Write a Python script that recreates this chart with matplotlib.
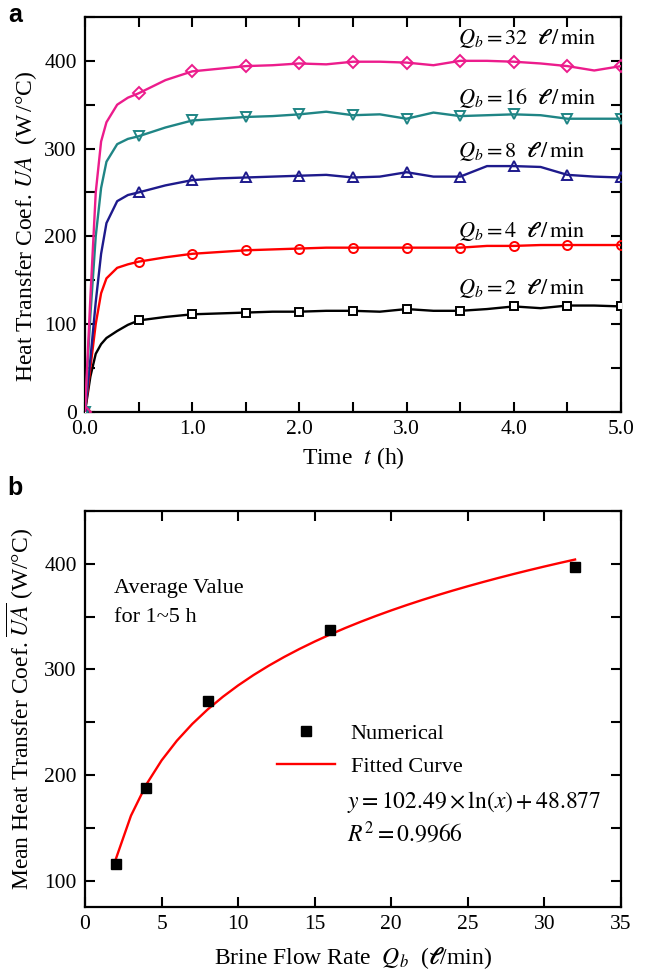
import numpy as np
import matplotlib
matplotlib.use("Agg")
import matplotlib.pyplot as plt
from matplotlib.lines import Line2D
from matplotlib.ticker import FixedLocator, FuncFormatter

plt.rcParams["font.family"] = ["Liberation Serif", "DejaVu Serif"]
plt.rcParams["mathtext.fontset"] = "stix"

# ---- panel a data: UA (W/C) vs time (h) ----
time_h = [0, 0.05, 0.1, 0.15, 0.2, 0.3, 0.4, 0.5, 0.75, 1.0, 1.25, 1.5, 1.75, 2.0,
          2.25, 2.5, 2.75, 3.0, 3.25, 3.5, 3.75, 4.0, 4.25, 4.5, 4.75, 5.0]
ua_q2 = [0, 40, 66, 77, 84, 92, 99, 104, 108, 111, 112, 113, 114, 114,
         115, 115, 114, 117, 115, 115, 117, 120, 118, 121, 121, 120]
ua_q4 = [0, 50, 100, 135, 152, 164, 168, 171, 176, 180, 182, 184, 185, 186,
         187, 187, 187, 187, 187, 187, 189, 189, 190, 190, 190, 190]
ua_q8 = [0, 60, 125, 180, 215, 240, 247, 250, 258, 264, 266, 267, 268, 269,
         270, 267, 268, 273, 268, 268, 280, 280, 279, 270, 268, 267]
ua_q16 = [0, 110, 200, 255, 285, 305, 311, 314, 324, 332, 334, 336, 337, 339,
          342, 338, 339, 334, 341, 337, 338, 339, 338, 334, 334, 334]
ua_q32 = [0, 130, 250, 308, 330, 350, 358, 363, 378, 388, 391, 394, 395, 397,
          396, 399, 399, 398, 395, 400, 400, 399, 397, 394, 389, 394]
marker_times = [0, 0.5, 1.0, 1.5, 2.0, 2.5, 3.0, 3.5, 4.0, 4.5, 5.0]
flow_labels = ["2", "4", "8", "16", "32"]

# ---- panel b data: mean UA vs brine flow rate ----
flow_rate = [2, 4, 8, 16, 32]
mean_ua = [116, 188, 270, 337, 397]
fit_a, fit_b = 102.49, 48.877   # y = a ln(x) + b, from the chart

colors = ["black", "#ff0000", "#1e1a8c", "#1f8585", "#ec1c8c"]
markers = ["s", "o", "^", "v", "D"]
msizes = [6, 6.5, 7.5, 7.5, 6.5]
series = [ua_q2, ua_q4, ua_q8, ua_q16, ua_q32]
label_y = [141, 206, 297, 358, 426]

fig = plt.figure(figsize=(6.5, 9.76), dpi=100)
ax1 = fig.add_axes([0.1308, 0.5782, 0.8246, 0.4044])
ax2 = fig.add_axes([0.1308, 0.0707, 0.8246, 0.4057])

mark_idx = [time_h.index(t) for t in marker_times]
for vals, c, m, ms in zip(series, colors, markers, msizes):
    face = "white" if m == "s" else "none"
    ax1.plot(time_h, vals, color=c, lw=1.7, marker=m, markevery=mark_idx,
             ms=ms, mfc=face, mec=c, mew=1.4, zorder=3)

for lab, y in zip(flow_labels, label_y):
    ax1.text(3.48, y, r"$Q_b = %s\ \ \boldsymbol{\ell}\,/\,\mathrm{min}$" % lab,
             fontsize=16, va="center", ha="left")

ax1.set_xlim(0, 5)
ax1.set_ylim(0, 450)
ax1.xaxis.set_major_locator(FixedLocator(np.arange(0, 5.01, 0.5)))
ax1.xaxis.set_major_formatter(FuncFormatter(
    lambda v, p: "%.1f" % v if abs(v - round(v)) < 1e-6 else ""))
ax1.yaxis.set_major_locator(FixedLocator(np.arange(0, 451, 50)))
ax1.yaxis.set_major_formatter(FuncFormatter(
    lambda v, p: "%d" % v if int(round(v)) % 100 == 0 else ""))
ax1.set_xlabel(r"Time  $t$ (h)", fontsize=17, labelpad=4)
ax1.set_ylabel(r"Heat Transfer Coef. $UA$  (W$\,$/°C)", fontsize=17, labelpad=6)
ax1.yaxis.set_label_coords(-0.085, 0.47)

# panel b
x_fit = np.arange(2, 33)
ax2.plot(x_fit, fit_a * np.log(x_fit) + fit_b, color="#ff0000", lw=1.7, zorder=2)
ax2.plot(flow_rate, mean_ua, "s", color="black", ms=6.5, zorder=3)
ax2.set_xlim(0, 35)
ax2.set_ylim(75, 450)
ax2.xaxis.set_major_locator(FixedLocator(np.arange(0, 36, 5)))
ax2.yaxis.set_major_locator(FixedLocator(np.arange(100, 451, 50)))
ax2.yaxis.set_major_formatter(FuncFormatter(
    lambda v, p: "%d" % v if int(round(v)) % 100 == 0 else ""))
ax2.set_xlabel(r"Brine Flow Rate  $Q_b$  ($\boldsymbol{\ell}$/min)", fontsize=17, labelpad=8)
ax2.set_ylabel(r"Mean Heat Transfer Coef. $\overline{UA}$ (W/°C)", fontsize=17, labelpad=6)

ax2.text(1.9, 377, "Average Value", fontsize=16, va="center")
ax2.text(1.9, 349, "for 1~5 h", fontsize=16, va="center")
handles = [Line2D([], [], ls="none", marker="s", color="black", ms=6.5),
           Line2D([], [], color="#ff0000", lw=1.7)]
ax2.legend(handles, ["Numerical", "Fitted Curve"], loc="center left",
           bbox_to_anchor=(0.33, 0.396), frameon=False, fontsize=16,
           handlelength=2.6, handletextpad=0.7, labelspacing=0.55,
           borderpad=0.2)
ax2.text(17.1, 174, r"$y = 102.49\times \ln(x) + 48.877$", fontsize=17, va="center")
ax2.text(17.1, 144, r"$R^2 = 0.9966$", fontsize=17, va="center")

for ax in (ax1, ax2):
    for s in ax.spines.values():
        s.set_linewidth(1.6)
    ax.tick_params(direction="in", top=True, right=True, length=7, width=1.5,
                   labelsize=15.5, pad=6)

fig.text(0.012, 0.997, "a", fontsize=18, fontweight="bold",
         family="Liberation Sans", va="top")
fig.text(0.012, 0.512, "b", fontsize=18, fontweight="bold",
         family="Liberation Sans", va="top")

fig.savefig("out.png", dpi=100)
